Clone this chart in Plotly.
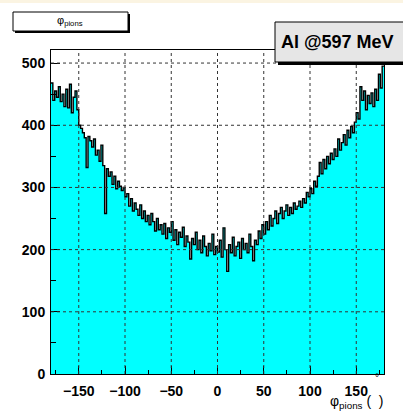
import plotly.graph_objects as go

# ---- data (counts per 2-degree bin) ----
x_min, x_max = -180, 180
counts = [
    468, 440, 455, 445, 462, 438, 450, 430, 458, 428,
    466, 420, 445, 455, 425, 400, 395, 388, 380, 332,
    382, 375, 365, 378, 352, 360, 342, 368, 335, 258,
    330, 318, 325, 305, 318, 298, 310, 302, 295, 300,
    285, 290, 270, 282, 262, 275, 265, 255, 272, 250,
    262, 245, 255, 240, 258, 245, 230, 250, 232, 240,
    225, 242, 218, 235, 228, 245, 215, 232, 208, 228,
    220, 236, 205, 222, 212, 185, 218, 208, 228, 200,
    215, 195, 222, 205, 190, 210, 198, 225, 192, 205,
    196, 215, 188, 235, 200, 165, 208, 195, 220, 190,
    205, 212, 186, 218, 200, 210, 195, 225, 205, 182,
    215, 208, 230, 218, 240, 225, 245, 232, 255, 238,
    250, 262, 242, 258, 268, 250, 262, 272, 255, 268,
    258, 275, 265, 270, 278, 268, 282, 275, 292, 285,
    298, 290, 310, 302, 318, 340, 322, 345, 330, 350,
    338, 355, 345, 362, 350, 378, 360, 372, 385, 368,
    392, 380, 398, 388, 405, 420, 410, 462, 440, 455,
    425, 448, 435, 452, 430, 458, 440, 482, 460, 495,
]
x_ticks = [-150, -100, -50, 0, 50, 100, 150]
y_ticks = [0, 100, 200, 300, 400, 500]
y_max = 521
title_text = "φ<sub>pions</sub>"
label_text = "Al @597 MeV"
xaxis_title = "φ<sub>pions</sub> (  )"

# ---- histogram step outline ----
n = len(counts)
w = (x_max - x_min) / n
edges = [x_min + i * w for i in range(n + 1)]
ys = counts + [counts[-1]]

W, H = 403, 412
ML, MR, MT, MB = 51, 19, 50, 38
PW, PH = W - ML - MR, H - MT - MB

def xp(px):
    return (px - ML) / PW

def yp(py):
    return (H - MB - py) / PH

fig = go.Figure()
fig.add_trace(go.Scatter(
    x=edges, y=ys, mode="lines", line_shape="hv",
    line=dict(color="black", width=1.4),
    fill="tozeroy", fillcolor="#00FFFF", hoverinfo="skip", showlegend=False,
))

shapes = []
# dotted grid drawn above the histogram
for t in x_ticks:
    shapes.append(dict(type="line", xref="x", yref="paper", x0=t, x1=t, y0=0, y1=1,
                       line=dict(color="#333333", width=1, dash="dot"), layer="above"))
for t in y_ticks[1:]:
    shapes.append(dict(type="line", xref="paper", yref="y", x0=0, x1=1, y0=t, y1=t,
                       line=dict(color="#333333", width=1, dash="dot"), layer="above"))
# top beige strip
shapes.append(dict(type="rect", xref="paper", yref="paper", x0=xp(0), x1=xp(W),
                   y0=yp(3), y1=yp(0), fillcolor="#FBF4E2", line=dict(width=0), layer="above"))
# title box with shadow
shapes.append(dict(type="rect", xref="paper", yref="paper", x0=xp(15), x1=xp(130),
                   y0=yp(33), y1=yp(14), fillcolor="black", line=dict(width=0), layer="above"))
shapes.append(dict(type="rect", xref="paper", yref="paper", x0=xp(13), x1=xp(128),
                   y0=yp(31), y1=yp(12), fillcolor="white",
                   line=dict(color="black", width=1), layer="above"))
# label box with shadow
shapes.append(dict(type="rect", xref="paper", yref="paper", x0=xp(278), x1=xp(410),
                   y0=yp(65), y1=yp(25), fillcolor="black", line=dict(width=0), layer="above"))
shapes.append(dict(type="rect", xref="paper", yref="paper", x0=xp(275), x1=xp(408),
                   y0=yp(62), y1=yp(22), fillcolor="#E6E6E6",
                   line=dict(color="black", width=1), layer="above"))

annotations = [
    dict(text=title_text, xref="paper", yref="paper", x=xp(70), y=yp(21),
         showarrow=False, xanchor="center", yanchor="middle",
         font=dict(family="Liberation Sans", size=11, color="black")),
    dict(text="<b>" + label_text + "</b>", xref="paper", yref="paper", x=xp(279), y=yp(42),
         showarrow=False, xanchor="left", yanchor="middle",
         font=dict(family="Liberation Sans", size=18, color="black")),
    dict(text=xaxis_title, xref="paper", yref="paper", x=xp(386), y=yp(402),
         showarrow=False, xanchor="right", yanchor="middle",
         font=dict(family="Liberation Sans", size=14, color="black")),
    dict(text="°", xref="paper", yref="paper", x=xp(377), y=yp(377),
         showarrow=False, xanchor="center", yanchor="middle",
         font=dict(family="Liberation Sans", size=10, color="black")),
]

tickfont = dict(family="Liberation Sans", size=14, color="black", weight="bold")
fig.update_layout(
    width=W, height=H,
    margin=dict(l=ML, r=MR, t=MT, b=MB, pad=0),
    paper_bgcolor="white", plot_bgcolor="white",
    shapes=shapes, annotations=annotations,
    xaxis=dict(range=[x_min, x_max], tickvals=x_ticks, ticks="inside", ticklen=8,
               tickcolor="black", showgrid=False, zeroline=False, showline=True,
               linecolor="black", linewidth=1, mirror=True, layer="above traces",
               tickfont=tickfont, ticklabelstandoff=4,
               minor=dict(dtick=25, tick0=-175, ticks="inside", ticklen=4,
                          tickcolor="black", showgrid=False)),
    yaxis=dict(range=[0, y_max], tickvals=y_ticks, ticks="inside", ticklen=9,
               tickcolor="black", showgrid=False, zeroline=False, showline=True,
               linecolor="black", linewidth=1, mirror=True, layer="above traces",
               tickfont=tickfont, ticklabelstandoff=2,
               minor=dict(dtick=50, tick0=50, ticks="inside", ticklen=5,
                          tickcolor="black", showgrid=False)),
)

fig.write_html("out.html")
